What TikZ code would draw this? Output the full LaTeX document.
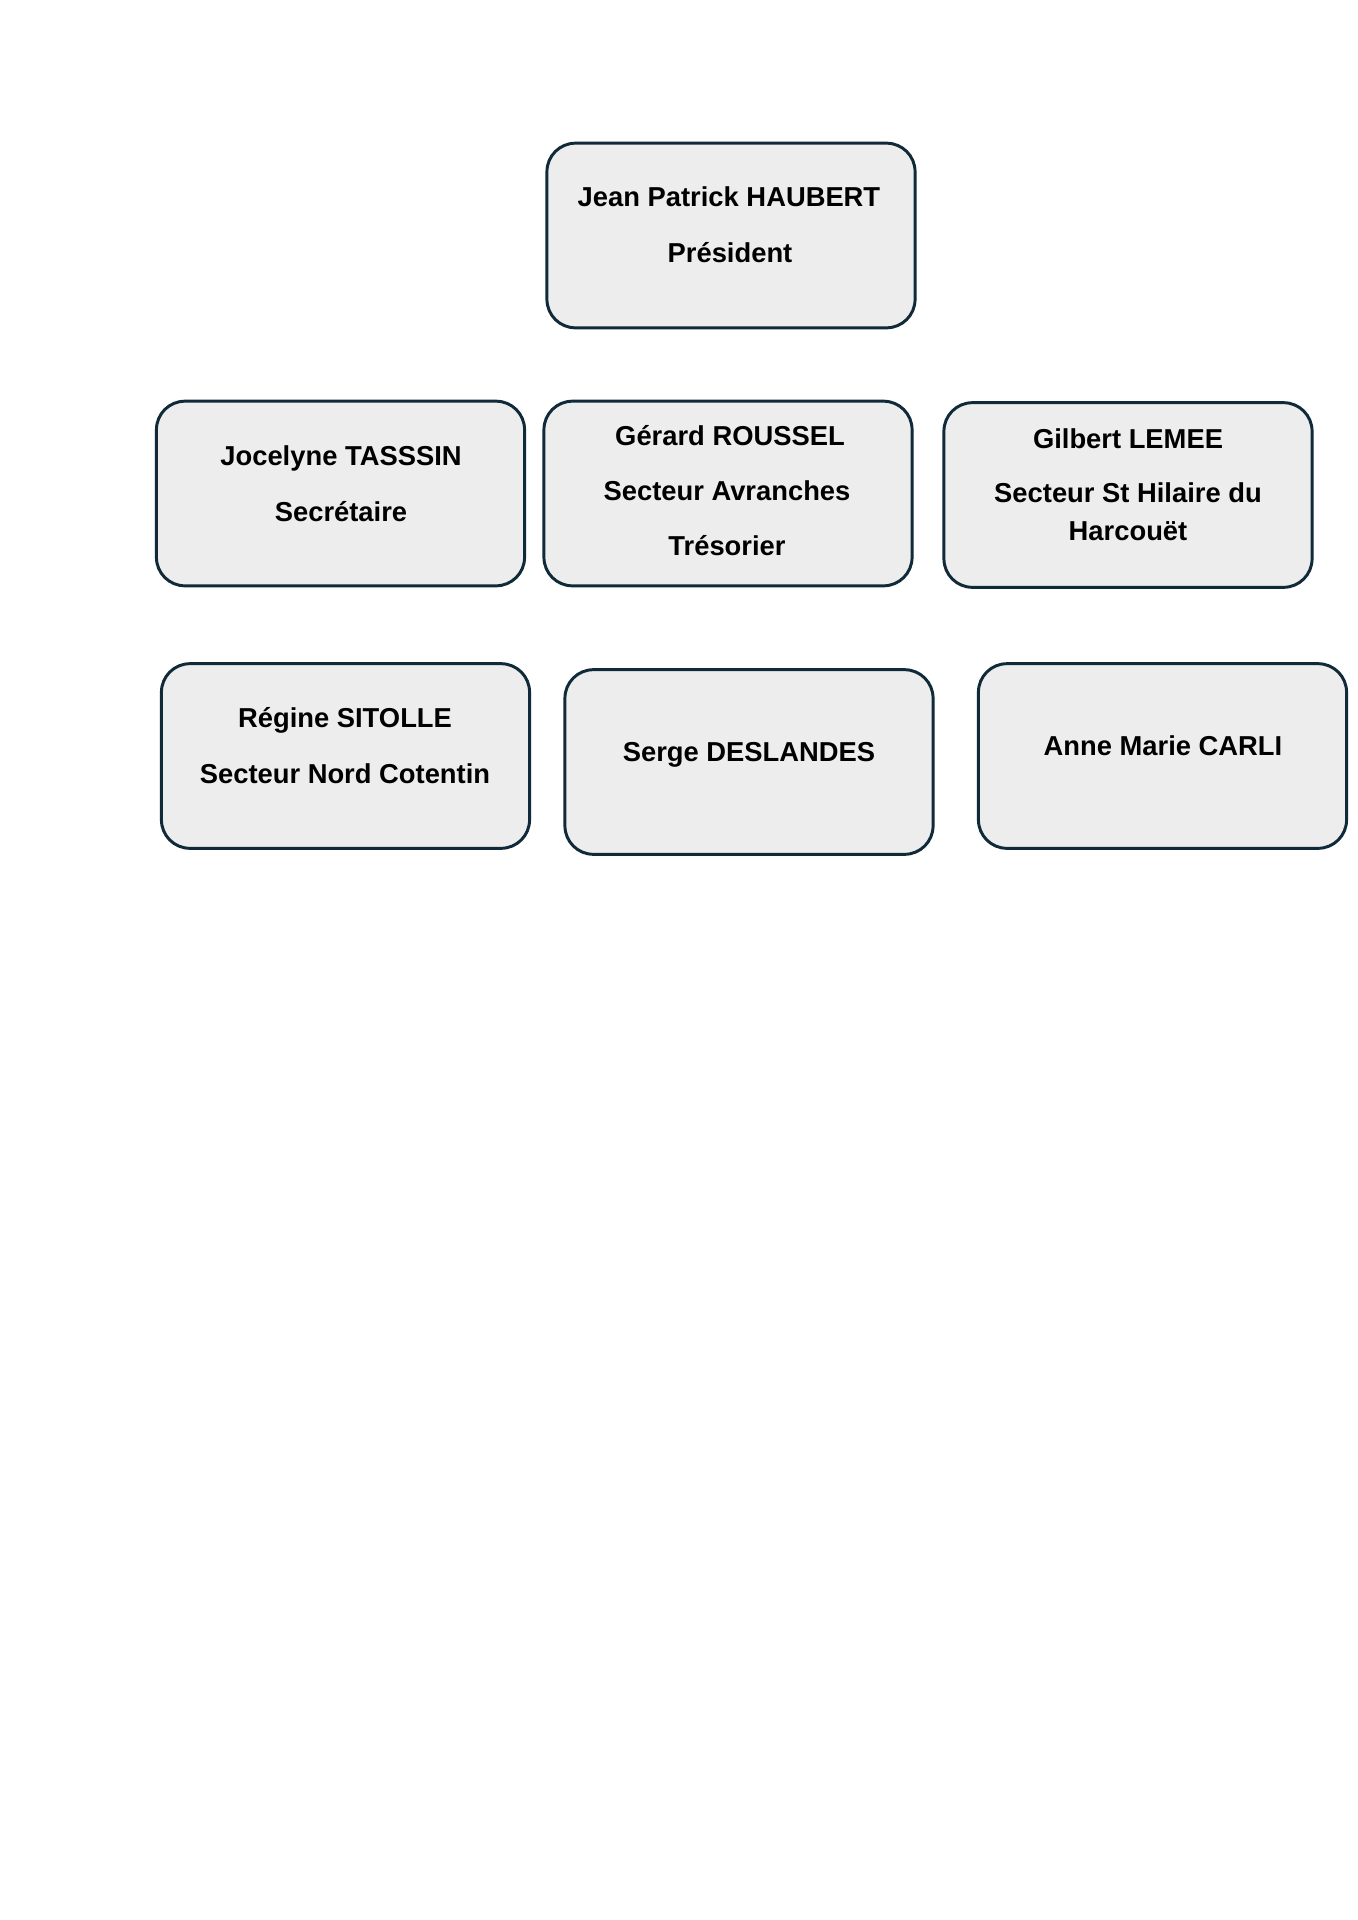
\documentclass[tikz,border=0pt]{standalone}
\usepackage{fontspec}
\setmainfont{Liberation Sans}
\definecolor{edge}{RGB}{16,42,58}
\definecolor{boxfill}{RGB}{237,237,237}
\begin{document}
\begin{tikzpicture}[x=0.43868pt,y=-0.43868pt,
  box/.style={draw=edge,fill=boxfill,line width=1.3pt,rounded corners=12.5pt,
    minimum width=161.5pt,minimum height=81pt,inner sep=0pt},
  txt/.style={anchor=base,inner sep=0pt,font=\fontsize{12}{14}\selectfont\bfseries}]
\useasboundingbox[fill=white] (0,0) rectangle (1357,1920);
% boxes
\node[box] (pres) at (731,235.5) {};
\node[box] (joc) at (340.5,493.5) {};
\node[box] (ger) at (728,493.5) {};
\node[box] (gil) at (1128,495) {};
\node[box] (reg) at (345.5,756) {};
\node[box] (ser) at (749,762) {};
\node[box] (ann) at (1162.5,756) {};
% texts
\node[txt] (pres1) at (729,206) {Jean Patrick HAUBERT};
\node[txt] (pres2) at (730,262) {Président};
\node[txt] (joc1) at (341,465) {Jocelyne TASSSIN};
\node[txt] (joc2) at (341,521) {Secrétaire};
\node[txt] (ger1) at (730,445) {Gérard ROUSSEL};
\node[txt] (ger2) at (727,500) {Secteur Avranches};
\node[txt] (ger3) at (727,555) {Trésorier};
\node[txt] (gil1) at (1128,448) {Gilbert LEMEE};
\node[txt] (gil2) at (1128,502) {Secteur St Hilaire du};
\node[txt] (gil3) at (1128,540) {Harcouët};
\node[txt] (reg1) at (345,727) {Régine SITOLLE};
\node[txt] (reg2) at (345,783) {Secteur Nord Cotentin};
\node[txt] (ser1) at (749,761) {Serge DESLANDES};
\node[txt] (ann1) at (1163,755) {Anne Marie CARLI};
\end{tikzpicture}
\end{document}
